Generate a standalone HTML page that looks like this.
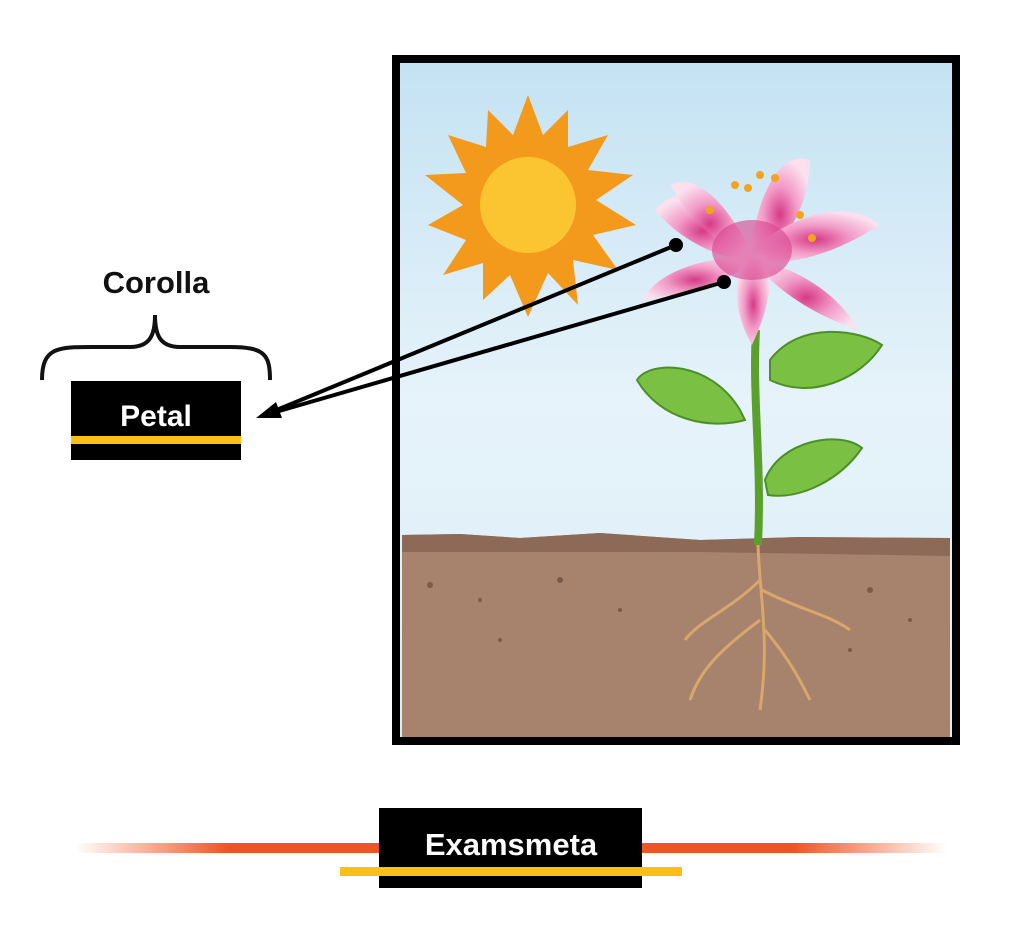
<!DOCTYPE html>
<html><head><meta charset="utf-8"><style>
html,body{margin:0;padding:0;background:#fff;width:1024px;height:930px;overflow:hidden}
svg{display:block}
text{font-family:"Liberation Sans",sans-serif;font-weight:bold}
</style></head><body>
<svg width="1024" height="930" viewBox="0 0 1024 930">
<defs>
<linearGradient id="sky" x1="0" y1="0" x2="0" y2="1">
<stop offset="0" stop-color="#c4e2f3"/><stop offset="0.5" stop-color="#e6f3fa"/><stop offset="1" stop-color="#dcedf7"/>
</linearGradient>
<linearGradient id="ol" x1="0" x2="1"><stop offset="0" stop-color="#f05a28" stop-opacity="0"/><stop offset="0.5" stop-color="#ee5526"/><stop offset="1" stop-color="#ee5526"/></linearGradient>
<linearGradient id="or" x1="0" x2="1"><stop offset="0" stop-color="#ee5526"/><stop offset="0.5" stop-color="#ee5526"/><stop offset="1" stop-color="#f05a28" stop-opacity="0"/></linearGradient>
<radialGradient id="fl" cx="0.5" cy="0.55" r="0.55"><stop offset="0" stop-color="#d63a86"/><stop offset="0.5" stop-color="#f29bc8"/><stop offset="1" stop-color="#fbe0ee"/></radialGradient>
</defs>
<rect x="396" y="59" width="560" height="682" fill="url(#sky)" stroke="#000" stroke-width="8"/>
<path d="M402 535 L460 534 L520 538 L600 533 L700 540 L800 537 L950 538 L950 737 L402 737 Z" fill="#a7826d"/>
<path d="M402 535 L460 534 L520 538 L600 533 L700 540 L800 537 L950 538 L950 556 L700 552 L402 552 Z" fill="#8c6a57"/>
<g fill="#7a5a48">
<circle cx="430" cy="585" r="3"/><circle cx="480" cy="600" r="2"/><circle cx="560" cy="580" r="3"/><circle cx="620" cy="610" r="2"/><circle cx="870" cy="590" r="3"/><circle cx="910" cy="620" r="2"/><circle cx="500" cy="640" r="2"/><circle cx="850" cy="650" r="2"/>
</g>
<g transform="translate(528,205)">
<polygon fill="#f39a1c" points="0,-110 15,-70 40,-95 40,-58 80,-70 60,-35 105,-30 68,-5 108,20 65,30 90,65 45,55 50,100 20,68 0,112 -18,70 -45,95 -45,58 -85,70 -62,35 -100,20 -65,0 -103,-30 -62,-32 -80,-70 -42,-58 -40,-95 -15,-70"/>
<circle r="48" fill="#fbc531"/>
</g>
<path d="M756 330 C752 400 762 460 758 545" stroke="#5aa02c" stroke-width="8" fill="none"/>
<path d="M758 545 C760 600 770 640 760 710 M760 580 C730 610 700 620 685 640 M762 590 C800 610 830 615 850 630 M760 620 C720 650 700 670 690 700 M765 630 C790 660 800 680 810 700" stroke="#d9a66b" stroke-width="3" fill="none"/>
<path d="M740 410 C710 360 650 360 637 380 C660 420 710 430 745 420 Z" fill="#7ac143" stroke="#4e8e28" stroke-width="2"/>
<path d="M770 360 C800 320 860 330 882 345 C860 380 810 400 770 380 Z" fill="#7ac143" stroke="#4e8e28" stroke-width="2"/>
<path d="M765 480 C780 440 840 430 862 448 C840 480 800 500 768 495 Z" fill="#7ac143" stroke="#4e8e28" stroke-width="2"/>
<!-- flower petals -->
<g fill="url(#fl)">
<path d="M750 250 C710 200 680 180 655 210 C680 240 720 260 750 260 Z"/>
<path d="M750 250 C760 190 780 150 810 160 C810 200 790 240 760 260 Z"/>
<path d="M750 250 C800 210 850 200 880 225 C840 250 800 265 760 262 Z"/>
<path d="M750 250 C720 190 690 175 670 185 C690 220 720 245 745 258 Z"/>
<path d="M745 255 C700 260 660 270 642 300 C680 295 720 285 748 265 Z"/>
<path d="M755 258 C800 270 840 295 858 330 C815 315 785 295 760 270 Z"/>
<path d="M745 255 C730 290 738 320 752 345 C768 310 775 280 765 255 Z"/>
</g>
<ellipse cx="752" cy="250" rx="40" ry="30" fill="#d8418d" opacity="0.6"/>
<g fill="#f4a41c"><circle cx="735" cy="185" r="4"/><circle cx="760" cy="175" r="4"/><circle cx="775" cy="178" r="4"/><circle cx="710" cy="210" r="4"/><circle cx="800" cy="215" r="4"/><circle cx="812" cy="238" r="4"/><circle cx="748" cy="188" r="4"/></g>
<line x1="676" y1="245" x2="262" y2="416" stroke="#000" stroke-width="4"/>
<line x1="724" y1="282" x2="262" y2="416" stroke="#000" stroke-width="4"/>
<polygon points="256,418 276,402 282,418" fill="#000"/>
<circle cx="676" cy="245" r="7" fill="#000"/>
<circle cx="724" cy="282" r="7" fill="#000"/>
<text x="156" y="293" font-size="31" text-anchor="middle" fill="#111">Corolla</text>
<path d="M42 380 C42 345 60 347 100 347 L130 347 C150 347 155 335 155 315 C155 335 160 347 180 347 L230 347 C265 347 270 355 270 380" stroke="#111" stroke-width="4" fill="none"/>
<rect x="71" y="381" width="170" height="79" fill="#000"/>
<rect x="71" y="436" width="170" height="8" fill="#fbbf16"/>
<text x="156" y="426" font-size="30" text-anchor="middle" fill="#fff">Petal</text>
<rect x="75" y="843" width="304" height="10" fill="url(#ol)"/>
<rect x="642" y="843" width="305" height="10" fill="url(#or)"/>
<rect x="379" y="808" width="263" height="80" fill="#000"/>
<rect x="340" y="867" width="342" height="9" fill="#fbbf16"/>
<text x="511" y="855" font-size="31" text-anchor="middle" fill="#fff">Examsmeta</text>
</svg>
</body></html>
